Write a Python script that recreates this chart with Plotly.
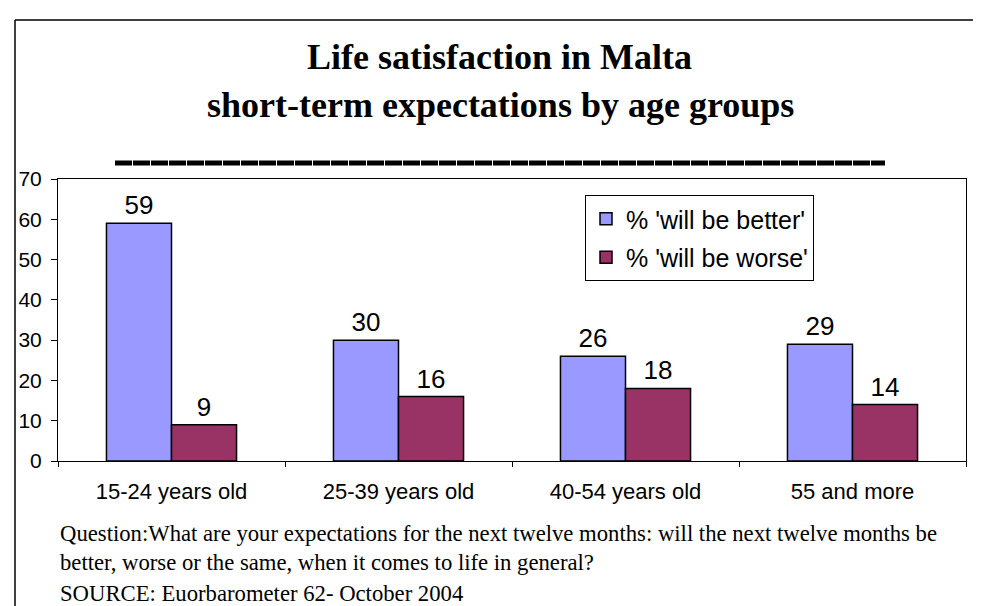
import plotly.graph_objects as go

categories = ["15-24 years old", "25-39 years old", "40-54 years old", "55 and more"]
better = [59, 30, 26, 29]
worse = [9, 16, 18, 14]
series_names = ["% 'will be better'", "% 'will be worse'"]
title_lines = ["Life satisfaction in Malta", "short-term expectations by age groups"]
footer_lines = [
    "Question:What are your expectations for the next twelve months: will the next twelve months be",
    "better, worse or the same, when it comes to life in general?",
    "SOURCE: Euorbarometer 62- October 2004",
]

W, H = 981, 606
L, R, T, B = 50, 958, 171, 453


def px(p):
    return (p - L) / (R - L)


def py(p):
    return (B - p) / (B - T)


fig = go.Figure()
fig.add_trace(go.Bar(
    x=categories, y=better, name=series_names[0], legendgroup="a",
    marker=dict(color="#9999FF", line=dict(color="black", width=1.5)),
    text=better, textposition="outside", cliponaxis=False,
    textfont=dict(family="Arial, Liberation Sans", size=26, color="black"),
))
fig.add_trace(go.Bar(
    x=categories, y=worse, name=series_names[1], legendgroup="b",
    marker=dict(color="#993366", line=dict(color="black", width=1.5)),
    text=worse, textposition="outside", cliponaxis=False,
    textfont=dict(family="Arial, Liberation Sans", size=26, color="black"),
))

annotations = []
annotations.append(dict(text="<b>" + title_lines[0] + "</b>", x=px(491), y=py(49), xref="paper", yref="paper",
                        xanchor="center", yanchor="middle", showarrow=False,
                        font=dict(family="Liberation Serif, Times New Roman", size=36, color="black")))
annotations.append(dict(text="<b>" + title_lines[1] + "</b>", x=px(492), y=py(97), xref="paper", yref="paper",
                        xanchor="center", yanchor="middle", showarrow=False,
                        font=dict(family="Liberation Serif, Times New Roman", size=36, color="black")))
foot_y = [525, 554, 585]
for line, yy in zip(footer_lines, foot_y):
    annotations.append(dict(text=line, x=px(50), y=py(yy), xref="paper", yref="paper",
                            xanchor="left", yanchor="middle", showarrow=False,
                            font=dict(family="Liberation Serif, Times New Roman", size=22.7, color="black")))

shapes = [
    # outer frame (extends beyond the picture on right and bottom)
    dict(type="line", xref="paper", yref="paper", x0=px(7), x1=px(1000), y0=py(12), y1=py(12),
         line=dict(color="black", width=1.5)),
    dict(type="line", xref="paper", yref="paper", x0=px(7), x1=px(7), y0=py(12), y1=py(620),
         line=dict(color="black", width=1.5)),
    # title underline (row of underscores)
    dict(type="line", xref="paper", yref="paper", x0=px(107), x1=px(877), y0=py(155), y1=py(155),
         line=dict(color="black", width=5, dash="17px,1px")),
]

fig.update_layout(
    width=W, height=H,
    margin=dict(l=L, r=W - R, t=T, b=H - B, autoexpand=False),
    paper_bgcolor="white", plot_bgcolor="white",
    barmode="group", bargap=0.427, bargroupgap=0,
    showlegend=True,
    legend=dict(x=px(577), y=py(187), xanchor="left", yanchor="top",
                bgcolor="white", bordercolor="black", borderwidth=1,
                font=dict(family="Arial, Liberation Sans", size=25, color="black"),
                traceorder="grouped", tracegroupgap=3),
    annotations=annotations,
    shapes=shapes,
    font=dict(family="Arial, Liberation Sans", color="black"),
)
fig.update_xaxes(
    showline=True, linecolor="black", linewidth=1, mirror=True,
    ticks="outside", ticklen=5, tickcolor="black", tickson="boundaries",
    showgrid=False, tickfont=dict(size=22, family="Arial, Liberation Sans", color="black"),
    ticklabelstandoff=11,
)
fig.update_yaxes(
    range=[0, 70], dtick=10, tick0=0,
    showline=True, linecolor="black", linewidth=1, mirror=True,
    ticks="outside", ticklen=6, tickcolor="black",
    showgrid=False, zeroline=False, ticklabelstandoff=5,
    tickfont=dict(size=21, family="Arial, Liberation Sans", color="black"),
)

fig.write_html("out.html")
